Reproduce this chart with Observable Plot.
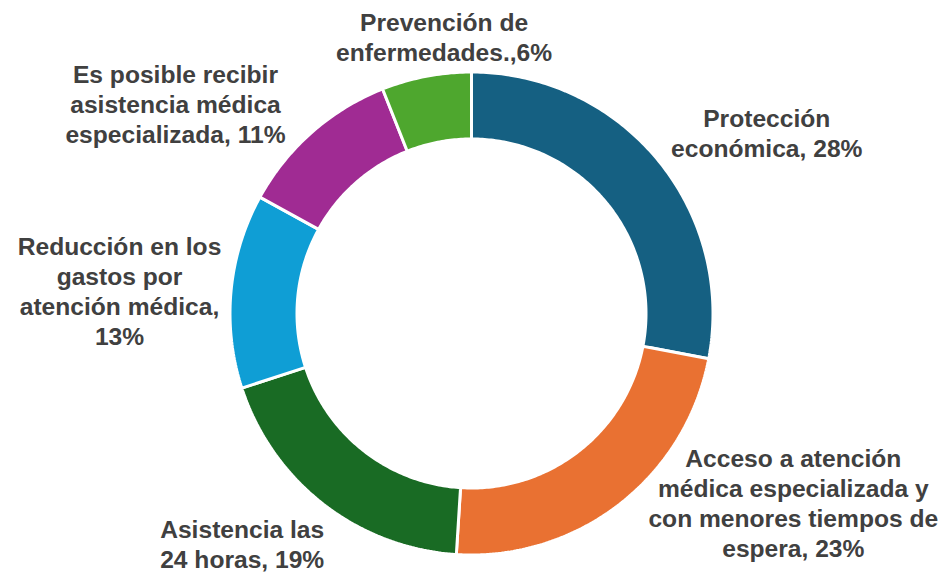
<!DOCTYPE html>
<html><head><meta charset="utf-8">
<script src="https://cdn.jsdelivr.net/npm/d3@7"></script>
<script src="https://cdn.jsdelivr.net/npm/@observablehq/plot@0.6"></script>
<style>html,body{margin:0;padding:0;background:#fff;}</style>
</head><body><div id="chart"></div>
<script>
const categories = [
  "Protección\neconómica, 28%",
  "Acceso a atención\nmédica especializada y\ncon menores tiempos de\nespera, 23%",
  "Asistencia las\n24 horas, 19%",
  "Reducción en los\ngastos por\natención médica,\n13%",
  "Es posible recibir\nasistencia médica\nespecializada, 11%",
  "Prevención de\nenfermedades.,6%"
];
const values = [28, 23, 19, 13, 11, 6];
const colors = ["#156082", "#E97132", "#196B24", "#0F9ED5", "#A02B93", "#4EA72E"];

// layout (not data)
const W = 943, H = 573;
const cx = 471, cy = 313;          // pixel centre of ring
const rOuter = 241.5, rInner = 174.5;
const labelR = 317;
const nudges = [[51, 20.5], [127.5, -62], [-35, -21], [-36.4, 6.3], [-86.4, 27.3], [32, 34]];

const total = d3.sum(values);
const slices = [];
let acc = 0;
values.forEach((v, i) => { slices.push({cat: categories[i], a0: acc / total * 2 * Math.PI, a1: (acc + v) / total * 2 * Math.PI}); acc += v; });

const pts = [];
slices.forEach(s => {
  const n = Math.max(8, Math.ceil((s.a1 - s.a0) * 80));
  const ring = [];
  for (let k = 0; k <= n; k++) { const a = s.a0 + (s.a1 - s.a0) * k / n; ring.push([rOuter * Math.sin(a), rOuter * Math.cos(a)]); }
  for (let k = n; k >= 0; k--) { const a = s.a0 + (s.a1 - s.a0) * k / n; ring.push([rInner * Math.sin(a), rInner * Math.cos(a)]); }
  ring.push(ring[0]);
  ring.forEach(([x, y]) => pts.push({cat: s.cat, x, y}));
});

const labels = slices.map((s, i) => {
  const m = (s.a0 + s.a1) / 2;
  return {cat: s.cat, x: labelR * Math.sin(m) + nudges[i][0], y: labelR * Math.cos(m) - nudges[i][1]};
});

const chart = Plot.plot({
  width: W, height: H, margin: 0,
  x: {domain: [-cx, W - cx], axis: null},
  y: {domain: [cy - H, cy], axis: null},
  color: {domain: categories, range: colors},
  marks: [
    Plot.line(pts, {x: "x", y: "y", z: "cat", fill: "cat", stroke: "white", strokeWidth: 3, curve: "linear", strokeLinejoin: "miter"}),
    Plot.text(labels, {x: "x", y: "y", text: "cat", fill: "#404040", fontSize: 24.6, fontWeight: "bold", lineHeight: 1.22, textAnchor: "middle", lineAnchor: "middle", fontFamily: "'Liberation Sans', Arial, sans-serif"})
  ]
});
document.getElementById("chart").appendChild(chart);
</script>
</body></html>
